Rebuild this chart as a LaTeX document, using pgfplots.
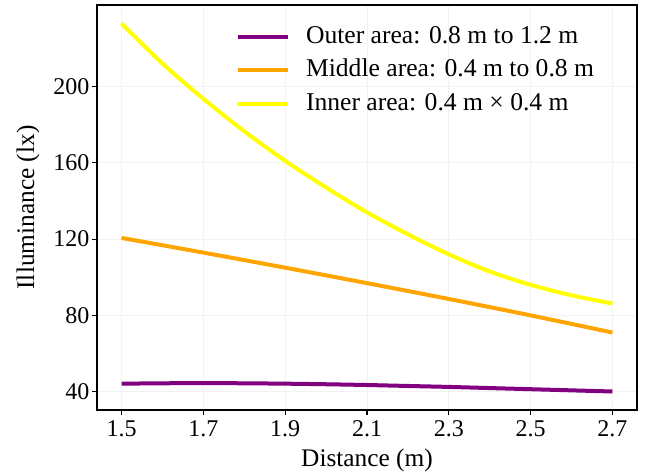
\documentclass[border=0pt]{standalone}
\usepackage{fontspec}
\setmainfont{Liberation Serif}
\usepackage{pgfplots}
\pgfplotsset{compat=1.18}
\definecolor{outerc}{RGB}{128,0,128}
\definecolor{middlec}{RGB}{255,165,0}
\definecolor{innerc}{RGB}{255,255,0}

\begin{document}
\begin{tikzpicture}
\begin{axis}[
  scale only axis,
  width=405pt, height=303.75pt,
  xmin=1.44, xmax=2.76,
  ymin=30.4, ymax=242.7,
  xtick={1.5,1.7,1.9,2.1,2.3,2.5,2.7},
  ytick={40,80,120,160,200},
  xticklabels={1.5,1.7,1.9,2.1,2.3,2.5,2.7},
  tick align=outside, tick pos=left,
  major tick length=3.5pt,
  grid=major, grid style={line width=0.5pt, draw=gray!10},
  axis line style={line width=0.8pt},
  tick style={line width=0.8pt, black},
  /pgf/number format/assume math mode=true,
  tick label style={font=\fontsize{18}{20}\selectfont},
  xticklabel style={inner sep=4pt},
  yticklabel style={inner sep=2pt},
  label style={font=\fontsize{19}{21}\selectfont},
  xlabel={Distance (m)},
  ylabel={Illuminance (lx)},
  xlabel style={at={(axis description cs:0.5,-0.1235)}, anchor=center},
  ylabel style={at={(axis description cs:-0.1278,0.5)}, anchor=center},
  legend style={draw=none, fill=none, font=\fontsize{19.2}{21}\selectfont,
    at={(0.257,0.952)}, anchor=north west, inner sep=0pt,
    row sep=6.5pt, column sep=12pt,
    nodes={inner sep=0pt, text height=14pt, text depth=4.5pt}},
  legend cell align=left,
  legend image code/.code={\draw[#1, line width=3pt] (0pt,0pt) -- (37.5pt,0pt);},
]
\addplot[color=outerc, line width=3pt, smooth]
  coordinates {(1.5,44.2)(1.6,44.4)(1.7,44.5)(1.8,44.4)(1.9,44.2)(2.0,43.9)(2.1,43.5)(2.2,43.0)(2.3,42.5)(2.4,41.9)(2.5,41.3)(2.6,40.7)(2.7,40.1)};
\addlegendentry{Outer area: 0.8 m to 1.2 m}

\addplot[color=middlec, line width=3pt, smooth]
  coordinates {(1.5,120.6)(1.7,112.9)(1.9,105.0)(2.1,96.9)(2.3,88.6)(2.5,80.0)(2.7,71.0)};
\addlegendentry{Middle area: 0.4 m to 0.8 m}

\addplot[color=innerc, line width=3pt, smooth]
  coordinates {(1.5,233.0)(1.6,212.0)(1.7,193.5)(1.8,176.5)(1.9,161.0)(2.0,147.0)(2.1,134.0)(2.2,122.5)(2.3,112.0)(2.4,103.0)(2.5,96.0)(2.6,90.5)(2.7,86.2)};
\addlegendentry{Inner area: 0.4 m × 0.4 m}
\end{axis}
\pgfresetboundingbox
\path (current axis.south west) ++(-72.75pt,-46.5pt) coordinate (bbsw);
\path (current axis.north east) ++(6pt,3.75pt) coordinate (bbne);
\path[use as bounding box] (bbsw) rectangle (bbne);
\end{tikzpicture}
\end{document}
